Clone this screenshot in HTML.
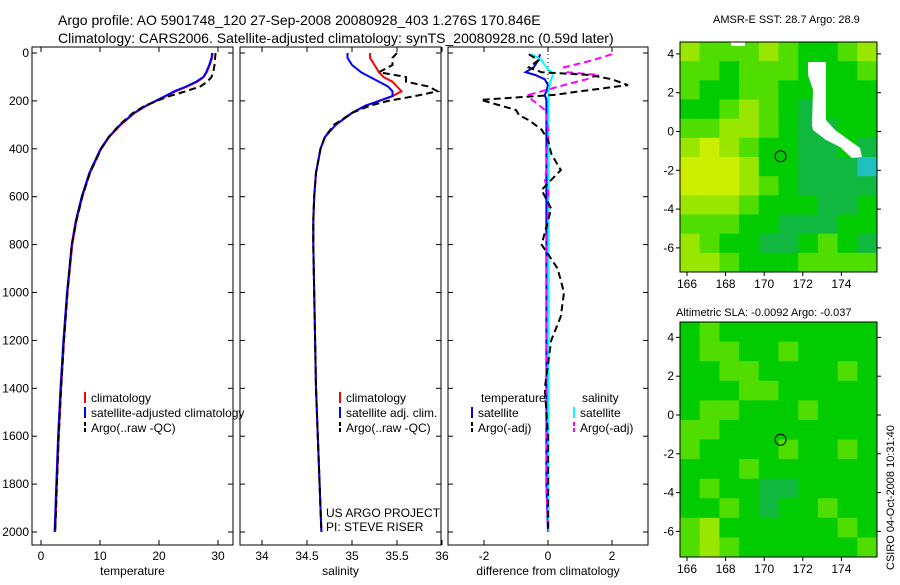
<!DOCTYPE html>
<html><head><meta charset="utf-8"><style>
body{margin:0;background:#fff;}
svg text{font-family:"Liberation Sans",sans-serif;fill:#000;}
</style></head><body>
<svg id="c" width="900" height="580" xmlns="http://www.w3.org/2000/svg">
<text x="58" y="25" font-size="14">Argo profile: AO 5901748_120 27-Sep-2008 20080928_403 1.276S 170.846E</text>
<text x="58" y="43" font-size="14">Climatology: CARS2006. Satellite-adjusted climatology: synTS_20080928.nc (0.59d later)</text>
<text x="713" y="23" font-size="11">AMSR-E SST: 28.7 Argo: 28.9</text>
<text x="676" y="316" font-size="11">Altimetric SLA: -0.0092 Argo: -0.037</text>
<text transform="translate(894,570) rotate(-90)" font-size="11">CSIRO 04-Oct-2008 10:31:40</text>
<g id="g"></g>
</svg>
<script>
// ---- data ----
const pres = [0,20,50,80,100,120,140,160,180,200,220,250,300,350,400,500,600,700,800,1000,1200,1400,1600,1800,2000];
const tempArgo = [29.6,29.5,29.4,29.2,28.9,28.2,27.0,24.5,21.8,19.6,17.6,15.6,13.3,11.5,10.2,8.3,7.0,6.0,5.2,4.5,3.9,3.4,3.0,2.7,2.4];
const tempClim = [29.1,29.0,28.6,28.1,27.6,26.5,24.8,22.8,21.2,19.6,17.9,15.9,13.5,11.6,10.2,8.3,7.0,6.0,5.3,4.5,3.9,3.4,3.0,2.7,2.4];
const tempSat  = [29.0,28.9,28.5,28.0,27.5,26.3,24.6,22.6,21.0,19.4,17.8,15.8,13.4,11.5,10.1,8.2,6.9,5.9,5.2,4.4,3.8,3.3,2.9,2.6,2.3];
const salArgo = [35.5,35.45,35.45,35.3,35.6,35.6,35.85,35.95,35.7,35.4,35.2,35.0,34.8,34.7,34.65,34.6,34.58,34.57,34.57,34.58,34.59,34.6,34.62,34.64,34.66];
const salClim = [35.2,35.2,35.25,35.3,35.35,35.45,35.5,35.55,35.45,35.3,35.15,35.0,34.82,34.7,34.65,34.6,34.58,34.57,34.57,34.58,34.59,34.6,34.62,34.64,34.66];
const salSat  = [34.95,34.95,35.0,35.1,35.2,35.3,35.4,35.45,35.45,35.3,35.15,35.0,34.82,34.7,34.65,34.6,34.58,34.57,34.57,34.58,34.59,34.6,34.62,34.64,34.66];
const dPres = [5,30,60,80,92,110,134,160,175,196,215,238,260,280,320,363,420,489,530,572,650,800,900,1000,1100,1200,1400,1600,1800,2000];
const dTempArgo = [-0.6,-0.3,-0.6,-0.2,1.3,2.0,2.5,1.0,0.2,-2.1,-1.6,-1.0,-0.9,-0.6,-0.2,0,0.1,0.4,0.1,-0.2,0.1,-0.2,0.3,0.5,0.4,0.1,-0.1,0,0,0];
const dTempSat = [-0.25,-0.3,-0.45,-0.7,-0.4,-0.1,0,-0.05,-0.1,-0.05,-0.05,-0.05,-0.05,-0.05,-0.05,-0.05,-0.05,-0.05,-0.05,-0.05,-0.05,-0.05,-0.05,-0.05,-0.05,-0.05,-0.05,-0.05,-0.05,0];
const dSalArgo = [2.0,1.4,0.5,0.6,1.6,1.2,0.5,-0.2,-0.6,-0.5,-0.3,-0.1,-0.05,-0.05,0,0,-0.05,-0.05,-0.1,0,0,-0.05,-0.05,-0.05,-0.05,-0.05,-0.05,-0.05,-0.05,0];
const dSalSat = [-0.5,-0.2,-0.05,0.1,0.15,0.1,0.05,0.02,0.02,0.02,0.02,0.02,0.02,0.02,0.02,0.02,0.02,0.02,0.02,0.02,0.02,0.02,0.02,0.02,0.02,0.02,0.02,0.02,0.02,0.02];
const presTicks = [0,200,400,600,800,1000,1200,1400,1600,1800,2000];
const tempTicks = [0,10,20,30];
const salTicks = [34,34.5,35,35.5,36];
const diffTicks = [-2,0,2];
const lonTicks = [166,168,170,172,174];
const latTicks = [4,2,0,-2,-4,-6];
const sstGrid = [
 [2,1,1,1,2,1,0,0,1,2],[1,1,0,1,1,1,0,0,0,1],[1,0,0,1,1,0,0,0,0,0],[0,0,1,2,1,0,-1,0,0,0],
 [1,1,2,2,1,0,-1,-1,0,0],[2,3,2,1,0,0,-1,-1,0,-1],[3,3,3,2,0,0,-1,-1,-1,-2],[3,3,3,2,1,0,-1,-1,-1,-1],
 [2,2,2,1,0,0,0,-1,-1,0],[1,1,1,0,0,-1,-1,-1,0,0],[2,1,0,0,-1,-1,0,1,0,-1],[2,2,1,0,0,0,1,1,1,1]];
const slaGrid = [
 [0,1,0,0,0,0,0,0,0,0],[0,1,1,0,0,1,0,0,0,0],[0,0,1,1,0,0,0,0,1,0],[0,0,0,1,1,0,0,0,0,0],
 [0,1,1,0,0,0,1,0,0,0],[1,1,0,0,0,0,0,0,0,0],[1,0,0,0,0,1,0,0,1,0],[0,0,0,1,0,0,0,0,0,0],
 [0,1,0,0,-1,-1,0,0,0,0],[0,0,1,0,-1,0,0,1,0,0],[1,2,0,0,0,0,0,0,1,0],[1,2,1,0,0,0,0,0,0,1]];
const floatLon = 170.846, floatLat = -1.276;
// ---- drawing ----
const NS="http://www.w3.org/2000/svg", G=document.getElementById('g');
function el(t,a,p){const e=document.createElementNS(NS,t);for(const k in a)e.setAttribute(k,a[k]);(p||G).appendChild(e);return e;}
const py = p => 53 + p*0.2395;
function panel(x0,x1,xs,ticks,label,name){
  const r=el('rect',{x:x0,y:47,width:x1-x0,height:498,fill:'none',stroke:'#000','stroke-width':1});
  
  ticks.forEach(v=>{const x=xs(v);el('line',{x1:x,x2:x,y1:545,y2:540,stroke:'#000'});el('line',{x1:x,x2:x,y1:47,y2:52,stroke:'#000'});
    const t=el('text',{x:x,y:560,'font-size':12,'text-anchor':'middle'});t.textContent=v;
    });
  presTicks.forEach(p=>{const y=py(p);el('line',{x1:x0,x2:x0+5,y1:y,y2:y,stroke:'#000'});el('line',{x1:x1,x2:x1-5,y1:y,y2:y,stroke:'#000'});
    if(name==='temp'){const t=el('text',{x:x0-3,y:y+4,'font-size':12,'text-anchor':'end'});t.textContent=p;
    }});
  const t=el('text',{x:(x0+x1)/2,y:575,'font-size':12,'text-anchor':'middle'});t.textContent=label;
  
}
function line(xs,ys,vals,pp,color,dash,w,name){
  const d=vals.map((v,i)=>(i?'L':'M')+xs(v).toFixed(1)+','+py(pp[i]).toFixed(1)).join('');
  const e=el('path',{d:d,fill:'none',stroke:color,'stroke-width':w,'stroke-dasharray':dash||'none'});
  
}
const xT=v=>41+v*5.9, xS=v=>262+(v-34)*90, xD=v=>548+v*32;
panel(32,233,xT,tempTicks,'temperature','temp');
panel(240,441,xS,salTicks,'salinity','sal');
panel(448,648,xD,diffTicks,'difference from climatology','diff');
el('line',{x1:548,x2:548,y1:50,y2:200,stroke:'#000','stroke-dasharray':'1 3'});
line(xT,py,tempClim,pres,'#f00','',2,'temp-climatology-line');
line(xT,py,tempSat,pres,'#00f','',2,'temp-satellite-line');
line(xT,py,tempArgo,pres,'#000','7 4',2,'temp-argo-line');
line(xS,py,salClim,pres,'#f00','',2,'sal-climatology-line');
line(xS,py,salSat,pres,'#00f','',2,'sal-satellite-line');
line(xS,py,salArgo,pres,'#000','7 4',2,'sal-argo-line');
line(xD,py,dTempSat,dPres,'#00f','',2,'diff-temp-satellite-line');
line(xD,py,dSalSat,dPres,'#0ff','',2,'diff-sal-satellite-line');
line(xD,py,dSalArgo,dPres,'#f0f','7 4',2,'diff-sal-argo-line');
line(xD,py,dTempArgo,dPres,'#000','7 4',2,'diff-temp-argo-line');
function leg(x,y,color,dash,txt,name){
  const l=el('line',{x1:x,x2:x,y1:y-10,y2:y+1,stroke:color,'stroke-width':2,'stroke-dasharray':dash||'none'});
  const t=el('text',{x:x+6,y:y,'font-size':12});t.textContent=txt;
  
}
leg(85,402,'#f00','','climatology','legend-climatology');
leg(85,417,'#00f','','satellite-adjusted climatology','legend-satellite');
leg(85,432,'#000','4 2','Argo(..raw -QC)','legend-argo');
leg(340,402,'#f00','','climatology','legend2-climatology');
leg(340,417,'#00f','','satellite adj. clim.','legend2-satellite');
leg(340,432,'#000','4 2','Argo(..raw -QC)','legend2-argo');
let t0=el('text',{x:481,y:402,'font-size':12});t0.textContent='temperature';
let t1=el('text',{x:582,y:402,'font-size':12});t1.textContent='salinity';
leg(472,417,'#00f','','satellite','legend3-temp-satellite');
leg(472,432,'#000','4 2','Argo(-adj)','legend3-temp-argo');
leg(574,417,'#0ff','','satellite','legend3-sal-satellite');
leg(574,432,'#f0f','4 2','Argo(-adj)','legend3-sal-argo');
let u1=el('text',{x:326,y:517,'font-size':12});u1.textContent='US ARGO PROJECT';
let u2=el('text',{x:326,y:531,'font-size':12});u2.textContent='PI: STEVE RISER';
const cmap={'-2':'#20c0c0','-1':'#10b840','0':'#00cc00','1':'#50dd00','2':'#99e600','3':'#ccee00'};
function map(y0,y1,lat0,grid,name){
  const mx=lon=>687+(lon-166)*19.3, my=lat=>lat0-lat*19.4;
  const cw=(877-680)/grid[0].length, ch=(y1-y0)/grid.length;
  grid.forEach((row,i)=>row.forEach((v,j)=>{const c=el('rect',{x:680+j*cw,y:y0+i*ch,width:cw+0.5,height:ch+0.5,fill:cmap[v]});
    }));
  if(name==='sst'){el('polygon',{points:'808,62 826,62 826,120 835,130 860,148 862,157 852,158 840,147 826,140 813,130 812,125 813,90 808,75',fill:'#fff'});
    el('rect',{x:731,y:42,width:14,height:4,fill:'#fff'});}
  el('rect',{x:680,y:y0,width:197,height:y1-y0,fill:'none',stroke:'#000'});
  lonTicks.forEach(v=>{const x=mx(v);el('line',{x1:x,x2:x,y1:y1,y2:y1+4,stroke:'#000'});
    const t=el('text',{x:x,y:y1+16,'font-size':12,'text-anchor':'middle'});t.textContent=v;
    });
  latTicks.forEach(v=>{const y=my(v);el('line',{x1:676,x2:680,y1:y,y2:y,stroke:'#000'});el('line',{x1:877,x2:881,y1:y,y2:y,stroke:'#000'});
    const t=el('text',{x:674,y:y+4,'font-size':12,'text-anchor':'end'});t.textContent=v;
    });
  const c=el('circle',{cx:mx(floatLon),cy:my(floatLat),r:5.5,fill:'none',stroke:'#000'});
  
}
map(42,272,131.5,sstGrid,'sst');
map(322,557,415,slaGrid,'sla');
</script>
</body></html>
